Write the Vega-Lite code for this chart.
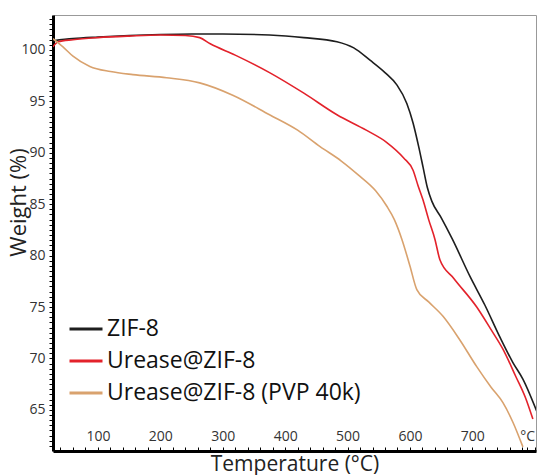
{
  "$schema": "https://vega.github.io/schema/vega-lite/v6.json",
  "width": 483,
  "height": 436,
  "autosize": "none",
  "padding": {"left": 53, "top": 15, "right": 1, "bottom": 24},
  "config": {"view": {"stroke": "#999", "strokeWidth": 1}},
  "data": {"values": [
      {"s": "ZIF-8", "T": 28, "W": 100.9},
      {"s": "ZIF-8", "T": 60, "W": 101.1},
      {"s": "ZIF-8", "T": 100, "W": 101.25},
      {"s": "ZIF-8", "T": 150, "W": 101.4},
      {"s": "ZIF-8", "T": 200, "W": 101.5},
      {"s": "ZIF-8", "T": 250, "W": 101.55},
      {"s": "ZIF-8", "T": 300, "W": 101.55},
      {"s": "ZIF-8", "T": 375, "W": 101.45},
      {"s": "ZIF-8", "T": 430, "W": 101.2},
      {"s": "ZIF-8", "T": 483, "W": 100.8},
      {"s": "ZIF-8", "T": 510, "W": 100.2},
      {"s": "ZIF-8", "T": 536, "W": 99.0},
      {"s": "ZIF-8", "T": 560, "W": 97.8},
      {"s": "ZIF-8", "T": 579, "W": 96.6},
      {"s": "ZIF-8", "T": 595, "W": 94.8},
      {"s": "ZIF-8", "T": 605, "W": 92.9},
      {"s": "ZIF-8", "T": 614, "W": 90.6},
      {"s": "ZIF-8", "T": 621, "W": 88.6},
      {"s": "ZIF-8", "T": 628, "W": 86.6},
      {"s": "ZIF-8", "T": 635, "W": 85.3},
      {"s": "ZIF-8", "T": 650, "W": 83.7},
      {"s": "ZIF-8", "T": 668, "W": 81.6},
      {"s": "ZIF-8", "T": 696, "W": 78.0},
      {"s": "ZIF-8", "T": 720, "W": 75.2},
      {"s": "ZIF-8", "T": 744, "W": 72.1},
      {"s": "ZIF-8", "T": 765, "W": 69.6},
      {"s": "ZIF-8", "T": 781, "W": 68.0},
      {"s": "ZIF-8", "T": 803, "W": 64.9},
      {"s": "Urease@ZIF-8", "T": 28, "W": 100.3},
      {"s": "Urease@ZIF-8", "T": 36, "W": 100.8},
      {"s": "Urease@ZIF-8", "T": 60, "W": 101.0},
      {"s": "Urease@ZIF-8", "T": 100, "W": 101.2},
      {"s": "Urease@ZIF-8", "T": 150, "W": 101.35},
      {"s": "Urease@ZIF-8", "T": 200, "W": 101.45},
      {"s": "Urease@ZIF-8", "T": 240, "W": 101.4},
      {"s": "Urease@ZIF-8", "T": 263, "W": 101.2},
      {"s": "Urease@ZIF-8", "T": 280, "W": 100.6},
      {"s": "Urease@ZIF-8", "T": 320, "W": 99.5},
      {"s": "Urease@ZIF-8", "T": 375, "W": 97.8},
      {"s": "Urease@ZIF-8", "T": 430, "W": 95.8},
      {"s": "Urease@ZIF-8", "T": 483, "W": 93.7},
      {"s": "Urease@ZIF-8", "T": 530, "W": 92.2},
      {"s": "Urease@ZIF-8", "T": 563, "W": 91.0},
      {"s": "Urease@ZIF-8", "T": 590, "W": 89.5},
      {"s": "Urease@ZIF-8", "T": 605, "W": 88.3},
      {"s": "Urease@ZIF-8", "T": 613, "W": 86.8},
      {"s": "Urease@ZIF-8", "T": 621, "W": 85.4},
      {"s": "Urease@ZIF-8", "T": 630, "W": 83.5},
      {"s": "Urease@ZIF-8", "T": 640, "W": 81.6},
      {"s": "Urease@ZIF-8", "T": 648, "W": 79.6},
      {"s": "Urease@ZIF-8", "T": 670, "W": 77.8},
      {"s": "Urease@ZIF-8", "T": 707, "W": 75.0},
      {"s": "Urease@ZIF-8", "T": 730, "W": 72.8},
      {"s": "Urease@ZIF-8", "T": 749, "W": 70.9},
      {"s": "Urease@ZIF-8", "T": 770, "W": 68.2},
      {"s": "Urease@ZIF-8", "T": 785, "W": 66.2},
      {"s": "Urease@ZIF-8", "T": 797, "W": 64.1},
      {"s": "Urease@ZIF-8 (PVP 40k)", "T": 28, "W": 101.1},
      {"s": "Urease@ZIF-8 (PVP 40k)", "T": 44, "W": 100.3},
      {"s": "Urease@ZIF-8 (PVP 40k)", "T": 60, "W": 99.4},
      {"s": "Urease@ZIF-8 (PVP 40k)", "T": 87, "W": 98.4},
      {"s": "Urease@ZIF-8 (PVP 40k)", "T": 120, "W": 97.9},
      {"s": "Urease@ZIF-8 (PVP 40k)", "T": 156, "W": 97.6},
      {"s": "Urease@ZIF-8 (PVP 40k)", "T": 210, "W": 97.3},
      {"s": "Urease@ZIF-8 (PVP 40k)", "T": 263, "W": 96.8},
      {"s": "Urease@ZIF-8 (PVP 40k)", "T": 316, "W": 95.6},
      {"s": "Urease@ZIF-8 (PVP 40k)", "T": 375, "W": 93.7},
      {"s": "Urease@ZIF-8 (PVP 40k)", "T": 420, "W": 92.2},
      {"s": "Urease@ZIF-8 (PVP 40k)", "T": 456, "W": 90.6},
      {"s": "Urease@ZIF-8 (PVP 40k)", "T": 490, "W": 89.2},
      {"s": "Urease@ZIF-8 (PVP 40k)", "T": 520, "W": 87.7},
      {"s": "Urease@ZIF-8 (PVP 40k)", "T": 545, "W": 86.3},
      {"s": "Urease@ZIF-8 (PVP 40k)", "T": 563, "W": 84.8},
      {"s": "Urease@ZIF-8 (PVP 40k)", "T": 575, "W": 83.5},
      {"s": "Urease@ZIF-8 (PVP 40k)", "T": 587, "W": 81.6},
      {"s": "Urease@ZIF-8 (PVP 40k)", "T": 600, "W": 79.0},
      {"s": "Urease@ZIF-8 (PVP 40k)", "T": 611, "W": 76.7},
      {"s": "Urease@ZIF-8 (PVP 40k)", "T": 630, "W": 75.5},
      {"s": "Urease@ZIF-8 (PVP 40k)", "T": 653, "W": 74.1},
      {"s": "Urease@ZIF-8 (PVP 40k)", "T": 680, "W": 71.8},
      {"s": "Urease@ZIF-8 (PVP 40k)", "T": 707, "W": 69.2},
      {"s": "Urease@ZIF-8 (PVP 40k)", "T": 730, "W": 67.2},
      {"s": "Urease@ZIF-8 (PVP 40k)", "T": 749, "W": 65.7},
      {"s": "Urease@ZIF-8 (PVP 40k)", "T": 765, "W": 63.8},
      {"s": "Urease@ZIF-8 (PVP 40k)", "T": 781, "W": 61.4}
  ]},
  "mark": {"type": "line", "interpolate": "monotone", "strokeWidth": 1.6, "clip": true},
  "encoding": {
    "x": {"field": "T", "type": "quantitative", "scale": {"domain": [28, 802], "nice": false, "zero": false},
      "axis": {"title": "Temperature (°C)", "gridOpacity": 0,
        "values": [40,60,80,100,120,140,160,180,200,220,240,260,280,300,320,340,360,380,400,420,440,460,480,500,520,540,560,580,600,620,640,660,680,700,720,740,760,780,788,800],
        "labelExpr": "datum.value === 788 ? '°C' : (datum.value % 100 === 0 && datum.value < 800 ? datum.label : '')",
        "domainColor": "black", "domainWidth": 3, "tickColor": "black", "tickWidth": 1,
        "tickSize": -4, "labelPadding": -18, "labelFlush": false, "labelOverlap": false, "labelBound": false,
        "labelFont": "Open Sans", "labelFontSize": 14, "labelColor": "#333",
        "titleFont": "Open Sans", "titleFontSize": 21, "titleFontWeight": "normal", "titleColor": "#222",
        "titleY": 19, "titleBaseline": "alphabetic"}},
    "y": {"field": "W", "type": "quantitative", "scale": {"domain": [61, 103.4], "nice": false, "zero": false},
      "axis": {"title": "Weight (%)", "gridOpacity": 0,
        "values": [61.5,62,62.5,63,63.5,64,64.5,65,65.5,66,66.5,67,67.5,68,68.5,69,69.5,70,70.5,71,71.5,72,72.5,73,73.5,74,74.5,75,75.5,76,76.5,77,77.5,78,78.5,79,79.5,80,80.5,81,81.5,82,82.5,83,83.5,84,84.5,85,85.5,86,86.5,87,87.5,88,88.5,89,89.5,90,90.5,91,91.5,92,92.5,93,93.5,94,94.5,95,95.5,96,96.5,97,97.5,98,98.5,99,99.5,100,100.5,101,101.5,102,102.5,103],
        "labelExpr": "datum.value % 5 === 0 ? format(datum.value, 'd') : ''",
        "tickSize": 4, "tickColor": "black", "tickWidth": 1,
        "domainColor": "black", "domainWidth": 3,
        "labelPadding": 4, "labelOverlap": false, "labelFlush": false,
        "labelFont": "Open Sans", "labelFontSize": 14, "labelColor": "#333",
        "titleFont": "Open Sans", "titleFontSize": 22, "titleFontWeight": "normal", "titleColor": "#222",
        "titleX": -35, "titleY": 187, "titleAngle": -90, "titleBaseline": "middle"}},
    "color": {"field": "s", "type": "nominal",
      "scale": {"domain": ["ZIF-8", "Urease@ZIF-8", "Urease@ZIF-8 (PVP 40k)"], "range": ["#1e1e1e", "#e3222b", "#d9a26e"]},
      "legend": {"title": null, "orient": "none", "legendX": 15, "legendY": 296, "symbolType": "stroke", "symbolSize": 1089, "symbolStrokeWidth": 3, "labelFontSize": 23, "labelFont": "Open Sans", "labelColor": "#111", "labelOffset": 3, "rowPadding": 2, "labelLimit": 500}}
  }
}
